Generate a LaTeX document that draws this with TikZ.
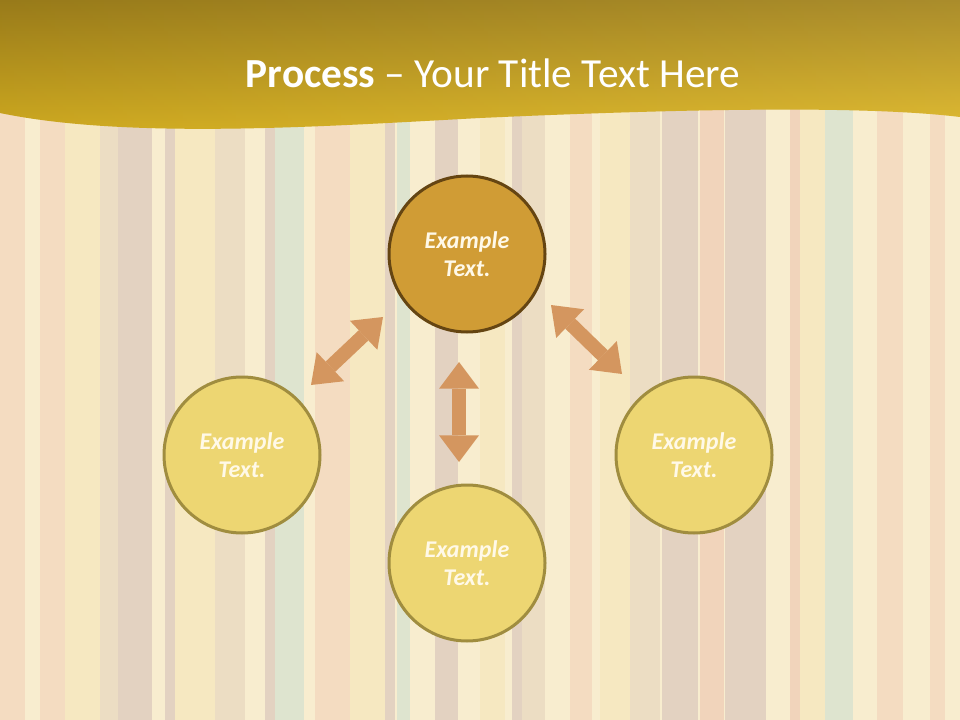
\documentclass[tikz,border=0pt]{standalone}
\usepackage{fontspec}
\setmainfont{Carlito}
\usetikzlibrary{arrows.meta}

\definecolor{bgcream}{HTML}{F8EDCF}
\definecolor{bgyellowraw}{HTML}{F5E5B8}
\definecolor{bgpeachraw}{HTML}{F2D6BC}
\definecolor{bgmauveraw}{HTML}{DCC9BC}
\definecolor{bgtanraw}{HTML}{E8D7BF}
\definecolor{bgmintraw}{HTML}{D8E2CF}
\definecolor{bgsalmonraw}{HTML}{EFCCB4}
\colorlet{bgyellow}{bgyellowraw!60!bgcream}
\colorlet{bgpeach}{bgpeachraw!75!bgcream}
\colorlet{bgmauve}{bgmauveraw!75!bgcream}
\colorlet{bgtan}{bgtanraw!75!bgcream}
\colorlet{bgmint}{bgmintraw!80!bgcream}
\colorlet{bgsalmon}{bgsalmonraw!75!bgcream}
\definecolor{bandtop}{HTML}{A4841C}
\definecolor{bandbottom}{HTML}{E1B923}
\definecolor{hubfill}{HTML}{D09C35}
\definecolor{hubline}{HTML}{654512}
\definecolor{leaffill}{HTML}{EDD672}
\definecolor{leafline}{HTML}{A08D3F}
\definecolor{arrowc}{HTML}{D4965F}
\definecolor{labeltext}{HTML}{FFF9E8}

\begin{document}
\begin{tikzpicture}[x=0.75pt, y=-0.75pt,
  hub/.style={circle, draw=hubline, fill=hubfill, line width=2.25pt, minimum size=117pt, inner sep=0pt,
    align=center, text=labeltext, font=\fontsize{18}{21}\selectfont\bfseries\itshape},
  leaf/.style={hub, draw=leafline, fill=leaffill},
  biarrow/.style={draw=arrowc, line width=10.5pt,
    {Triangle[width=30pt,length=20pt,line width=0pt]}-{Triangle[width=30pt,length=20pt,line width=0pt]}}]
\useasboundingbox (0,0) rectangle (960,720);

% striped background
\fill[bgcream] (0,0) rectangle (960,720);
\foreach \xa/\xb/\col in {0/25/bgpeach, 40/65/bgpeach, 65/100/bgyellow, 100/118/bgtan, 118/152/bgmauve,
  165/175/bgmauve, 175/215/bgyellow, 215/245/bgtan, 265/275/bgmauve, 275/304/bgmint, 315/350/bgpeach,
  350/385/bgyellow, 385/395/bgmauve, 397/410/bgmint, 435/458/bgmauve, 480/505/bgyellow, 512/522/bgmauve,
  522/545/bgtan, 570/592/bgpeach, 600/630/bgyellow, 630/660/bgtan, 662/698/bgmauve, 700/724/bgsalmon,
  725/766/bgmauve, 790/800/bgsalmon, 800/825/bgyellow, 825/853/bgmint, 877/903/bgpeach, 930/945/bgpeach}
  \fill[\col] (\xa,0) rectangle (\xb,720);

% title band
\shade[top color=bandtop, bottom color=bandbottom] (0,0) -- (960,0) -- (960,117)
  .. controls (870,106) and (700,108) .. (480,118)
  .. controls (330,126) and (130,140) .. (0,113) -- cycle;
\shade[left color=black, right color=white, opacity=0.07] (0,0) -- (960,0) -- (960,117)
  .. controls (870,106) and (700,108) .. (480,118)
  .. controls (330,126) and (130,140) .. (0,113) -- cycle;
\node[anchor=base, text=white, font=\fontsize{31}{37}\selectfont] (title) at (493,88)
  {\textbf{Process} -- Your Title Text Here};

% circles
\node[hub] (top) at (467,254) {Example\\Text.};
\node[leaf] (left) at (242,455) {Example\\Text.};
\node[leaf] (right) at (694,455) {Example\\Text.};
\node[leaf] (bottom) at (467,563) {Example\\Text.};

% arrows
\coordinate (la) at (383,317);
\coordinate (lb) at (311,385);
\coordinate (ra) at (551,305);
\coordinate (rb) at (622,374);
\coordinate (va) at (459,362);
\coordinate (vb) at (459,462);
\draw[biarrow] (la) -- (lb);
\draw[biarrow] (ra) -- (rb);
\draw[biarrow] (va) -- (vb);
\end{tikzpicture}
\end{document}
